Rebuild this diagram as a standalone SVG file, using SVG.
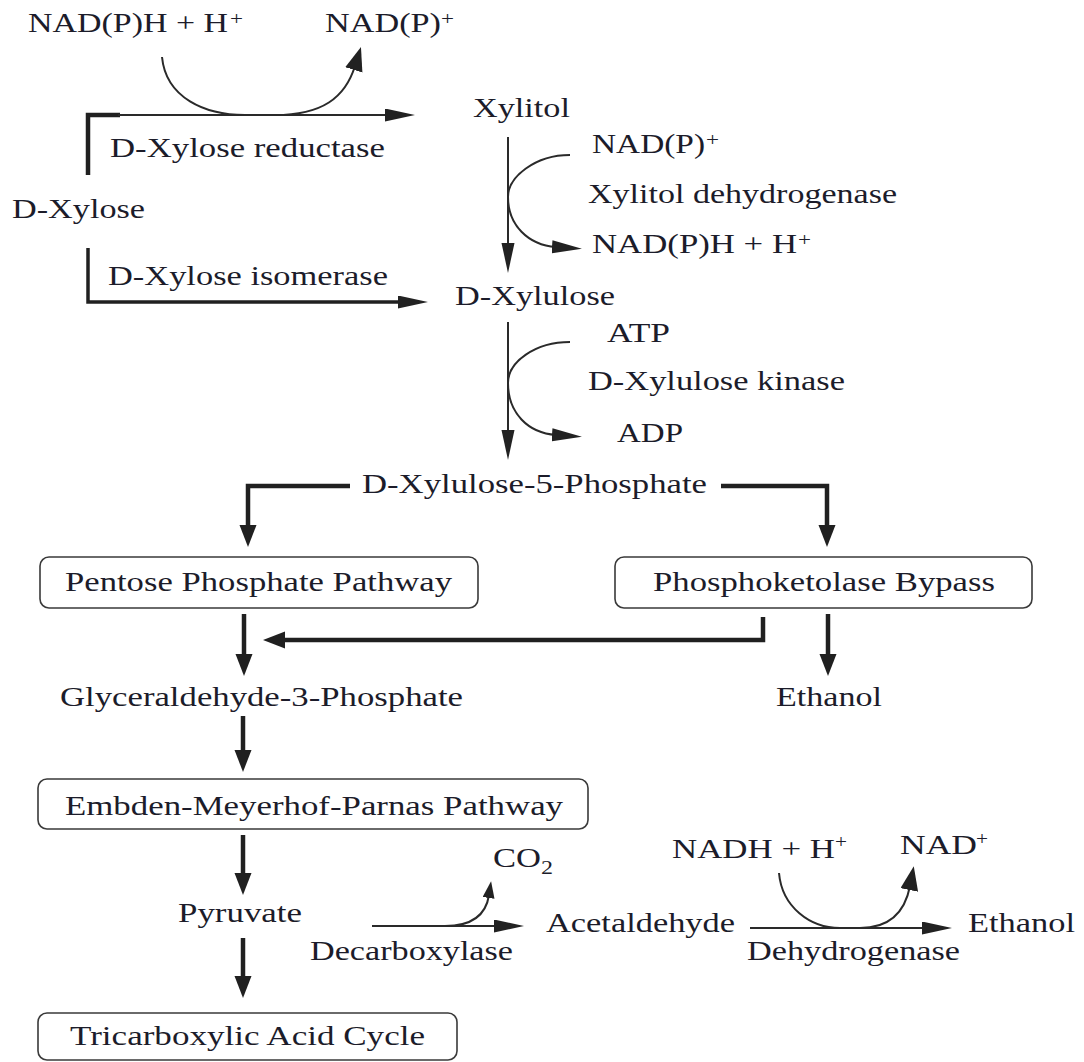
<svg xmlns="http://www.w3.org/2000/svg" width="1084" height="1062" viewBox="0 0 1084 1062">
  <style>
    .t { font-family: "Liberation Serif", "Times New Roman", serif; font-size: 27px; fill: #1c1c2a; }
    .sup { font-family: "Liberation Serif", "Times New Roman", serif; font-size: 18px; fill: #1c1c2a; }
    .box { fill: #ffffff; stroke: #3a3a3a; stroke-width: 1.6; }
    .thick { fill: none; stroke: #202020; stroke-width: 4.5; stroke-linejoin: miter; stroke-linecap: butt; }
    .thin { fill: none; stroke: #2a2a2a; stroke-width: 2; stroke-linecap: butt; }
    .mid { fill: none; stroke: #202020; stroke-width: 3.5; stroke-linejoin: miter; }
  </style>
  <defs>
    <marker id="big" markerUnits="userSpaceOnUse" markerWidth="24" markerHeight="18" refX="4" refY="8.5" orient="auto">
      <path d="M0,0 L22,8.5 L0,17 Z" fill="#202020"/>
    </marker>
    <marker id="slim" markerUnits="userSpaceOnUse" markerWidth="32" markerHeight="14" refX="4" refY="6.5" orient="auto">
      <path d="M0,0 L30,6.5 L0,13 Z" fill="#222222"/>
    </marker>
    <marker id="head" markerUnits="userSpaceOnUse" markerWidth="26" markerHeight="20" refX="4" refY="9" orient="auto">
      <path d="M0,0 L24,9 L0,18 Z" fill="#222222"/>
    </marker>
    <marker id="small" markerUnits="userSpaceOnUse" markerWidth="19" markerHeight="14" refX="3" refY="6" orient="auto">
      <path d="M0,0 L17,6 L0,12 Z" fill="#222222"/>
    </marker>
  </defs>

  <!-- connectors -->
  <g id="connectors">
    <!-- D-Xylose to Xylitol (reductase) -->
    <path class="thick" d="M88,175 V115 H120"/>
    <path class="thin" d="M118,115 H389" marker-end="url(#slim)"/>
    <path class="thin" d="M162,57 C166,98 205,115 245,115 L275,115 C322,115 345,98 355,66" marker-end="url(#head)"/>
    <!-- D-Xylose to D-Xylulose (isomerase) -->
    <path class="mid" d="M88,248 V302 H402" marker-end="url(#slim)"/>
    <!-- Xylitol to D-Xylulose -->
    <path class="thin" d="M508,137 V247" marker-end="url(#slim)"/>
    <path class="thin" d="M570,155 C535,155 508,177 508,197 C508,225 528,245 556,247" marker-end="url(#slim)"/>
    <!-- D-Xylulose to D-Xylulose-5-Phosphate -->
    <path class="thin" d="M508,322 V434" marker-end="url(#slim)"/>
    <path class="thin" d="M570,342 C535,342 508,362 508,383 C508,413 528,433 556,435" marker-end="url(#slim)"/>
    <!-- branches from D-Xylulose-5-Phosphate -->
    <path class="thick" d="M350,486 H248 V529" marker-end="url(#big)"/>
    <path class="thick" d="M721,486 H827 V529" marker-end="url(#big)"/>
    <!-- pathway outputs -->
    <path class="thick" d="M244,614 V658" marker-end="url(#big)"/>
    <path class="thick" d="M763,617 V640 H281" marker-end="url(#big)"/>
    <path class="thick" d="M828,614 V658" marker-end="url(#big)"/>
    <path class="thick" d="M243,716 V754" marker-end="url(#big)"/>
    <path class="thick" d="M243,835 V877" marker-end="url(#big)"/>
    <path class="thick" d="M243,938 V980" marker-end="url(#big)"/>
    <!-- Pyruvate to Acetaldehyde -->
    <path class="thin" d="M372,926 H498" marker-end="url(#slim)"/>
    <path class="thin" d="M445,926 C472,926 486,915 489,895" marker-end="url(#small)"/>
    <!-- Acetaldehyde to Ethanol -->
    <path class="thin" d="M750,928 H926" marker-end="url(#slim)"/>
    <path class="thin" d="M779,873 C782,907 810,928 840,928 L860,928 C890,928 905,912 910,886" marker-end="url(#head)"/>
  </g>

  <!-- cofactors of xylose reductase -->
  <g id="cofactor-nadph-1">
    <text class="t" x="28" y="32" textLength="200" lengthAdjust="spacingAndGlyphs">NAD(P)H + H</text>
    <text class="sup" x="230" y="25" textLength="13" lengthAdjust="spacingAndGlyphs">+</text>
  </g>
  <g id="cofactor-nadp-1">
    <text class="t" x="325" y="32" textLength="116" lengthAdjust="spacingAndGlyphs">NAD(P)</text>
    <text class="sup" x="441" y="25" textLength="13" lengthAdjust="spacingAndGlyphs">+</text>
  </g>

  <g id="xylitol"><text class="t" x="473" y="117" textLength="97" lengthAdjust="spacingAndGlyphs">Xylitol</text></g>
  <g id="enzyme-reductase"><text class="t" x="110" y="157" textLength="275" lengthAdjust="spacingAndGlyphs">D-Xylose reductase</text></g>
  <g id="d-xylose"><text class="t" x="12" y="218" textLength="133" lengthAdjust="spacingAndGlyphs">D-Xylose</text></g>
  <g id="enzyme-isomerase"><text class="t" x="108" y="285" textLength="280" lengthAdjust="spacingAndGlyphs">D-Xylose isomerase</text></g>

  <!-- xylitol dehydrogenase step -->
  <g id="cofactor-nadp-2">
    <text class="t" x="592" y="153" textLength="113" lengthAdjust="spacingAndGlyphs">NAD(P)</text>
    <text class="sup" x="706" y="146" textLength="13" lengthAdjust="spacingAndGlyphs">+</text>
  </g>
  <g id="enzyme-xdh"><text class="t" x="588" y="203" textLength="309" lengthAdjust="spacingAndGlyphs">Xylitol dehydrogenase</text></g>
  <g id="cofactor-nadph-2">
    <text class="t" x="592" y="253" textLength="205" lengthAdjust="spacingAndGlyphs">NAD(P)H + H</text>
    <text class="sup" x="798" y="246" textLength="13" lengthAdjust="spacingAndGlyphs">+</text>
  </g>

  <g id="d-xylulose"><text class="t" x="455" y="305" textLength="160" lengthAdjust="spacingAndGlyphs">D-Xylulose</text></g>

  <!-- xylulose kinase step -->
  <g id="atp"><text class="t" x="607" y="342" textLength="63" lengthAdjust="spacingAndGlyphs">ATP</text></g>
  <g id="enzyme-xk"><text class="t" x="588" y="390" textLength="257" lengthAdjust="spacingAndGlyphs">D-Xylulose kinase</text></g>
  <g id="adp"><text class="t" x="617" y="442" textLength="66" lengthAdjust="spacingAndGlyphs">ADP</text></g>

  <g id="xylulose-5-p"><text class="t" x="362" y="493" textLength="345" lengthAdjust="spacingAndGlyphs">D-Xylulose-5-Phosphate</text></g>

  <g id="ppp">
    <rect class="box" x="40" y="557" width="438" height="51" rx="9"/>
    <text class="t" x="65" y="591" textLength="387" lengthAdjust="spacingAndGlyphs">Pentose Phosphate Pathway</text>
  </g>
  <g id="pk-bypass">
    <rect class="box" x="615" y="557" width="417" height="51" rx="9"/>
    <text class="t" x="653" y="591" textLength="342" lengthAdjust="spacingAndGlyphs">Phosphoketolase Bypass</text>
  </g>

  <g id="g3p"><text class="t" x="60" y="706" textLength="403" lengthAdjust="spacingAndGlyphs">Glyceraldehyde-3-Phosphate</text></g>
  <g id="ethanol-pk"><text class="t" x="776" y="706" textLength="106" lengthAdjust="spacingAndGlyphs">Ethanol</text></g>

  <g id="emp">
    <rect class="box" x="38" y="779" width="550" height="50" rx="9"/>
    <text class="t" x="65" y="815" textLength="498" lengthAdjust="spacingAndGlyphs">Embden-Meyerhof-Parnas Pathway</text>
  </g>

  <g id="co2">
    <text class="t" x="493" y="867" textLength="48" lengthAdjust="spacingAndGlyphs">CO</text>
    <text class="sup" x="541" y="874" textLength="12" lengthAdjust="spacingAndGlyphs">2</text>
  </g>
  <g id="nadh">
    <text class="t" x="672" y="858" textLength="163" lengthAdjust="spacingAndGlyphs">NADH + H</text>
    <text class="sup" x="835" y="848" textLength="12" lengthAdjust="spacingAndGlyphs">+</text>
  </g>
  <g id="nad">
    <text class="t" x="900" y="854" textLength="77" lengthAdjust="spacingAndGlyphs">NAD</text>
    <text class="sup" x="976" y="845" textLength="12" lengthAdjust="spacingAndGlyphs">+</text>
  </g>

  <g id="pyruvate"><text class="t" x="178" y="922" textLength="124" lengthAdjust="spacingAndGlyphs">Pyruvate</text></g>
  <g id="acetaldehyde"><text class="t" x="546" y="932" textLength="189" lengthAdjust="spacingAndGlyphs">Acetaldehyde</text></g>
  <g id="ethanol"><text class="t" x="968" y="932" textLength="107" lengthAdjust="spacingAndGlyphs">Ethanol</text></g>
  <g id="enzyme-decarboxylase"><text class="t" x="310" y="960" textLength="203" lengthAdjust="spacingAndGlyphs">Decarboxylase</text></g>
  <g id="enzyme-adh"><text class="t" x="747" y="960" textLength="213" lengthAdjust="spacingAndGlyphs">Dehydrogenase</text></g>

  <g id="tca">
    <rect class="box" x="38" y="1013" width="419" height="47" rx="9"/>
    <text class="t" x="70" y="1045" textLength="355" lengthAdjust="spacingAndGlyphs">Tricarboxylic Acid Cycle</text>
  </g>
</svg>
